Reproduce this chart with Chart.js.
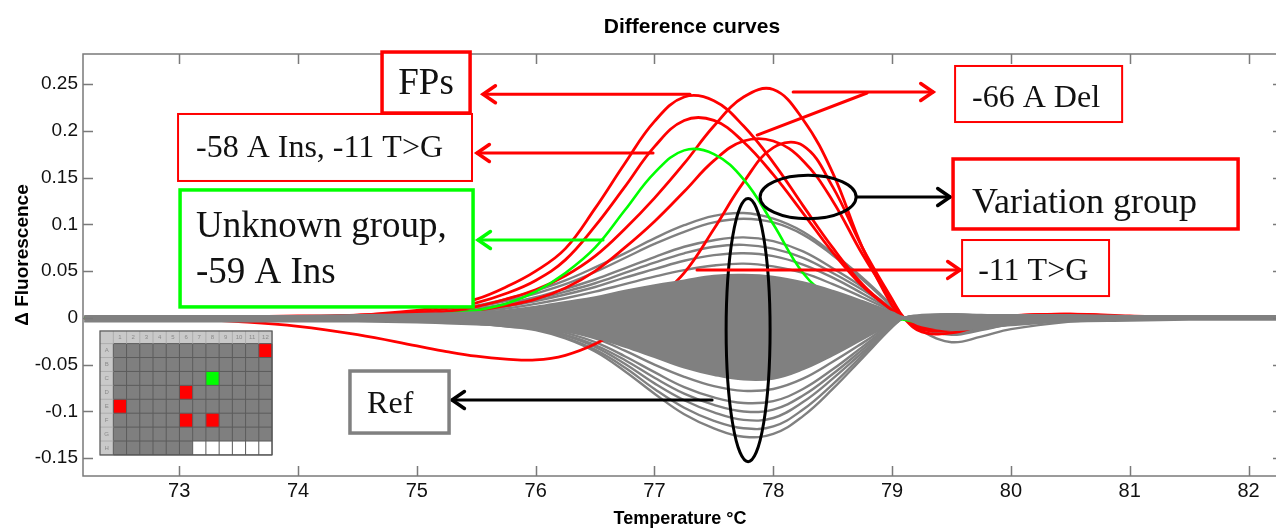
<!DOCTYPE html>
<html>
<head>
<meta charset="utf-8">
<script src="https://cdn.jsdelivr.net/npm/chart.js@4.4.1/dist/chart.umd.min.js"></script>
<style>
html,body{margin:0;padding:0;background:#fff;overflow:hidden;}
canvas{display:block;}
</style>
</head>
<body>
<canvas id="c" width="1284" height="529"></canvas>
<script>
// ---------------- data ----------------
const temps = [72.2,72.5,73,73.5,74,74.5,75,75.25,75.5,75.75,76,76.25,76.5,76.75,77,77.25,77.5,77.75,78,78.25,78.5,78.75,79,79.1,79.25,79.5,79.75,80,80.5,81,81.5,82,82.3];

const xTickValues = [73,74,75,76,77,78,79,80,81,82];
const xTickLabels = ['73','74','75','76','77','78','79','80','81','82'];
const yTickValues = [-0.15,-0.1,-0.05,0,0.05,0.1,0.15,0.2,0.25];
const yTickLabels = ['-0.15','-0.1','-0.05','0','0.05','0.1','0.15','0.2','0.25'];

// red curves (variants)
const redA = [0,0,0,0.001,0.002,0.003,0.008,0.013,0.020,0.033,0.050,0.074,0.117,0.165,0.210,0.236,0.232,0.205,0.166,0.120,0.075,0.036,0.008,0,-0.008,-0.006,-0.002,0.002,0.003,0.001,0,0,0];
const redB = [0,0,0,0.001,0.001,0.003,0.006,0.010,0.016,0.026,0.040,0.062,0.098,0.140,0.183,0.211,0.211,0.188,0.153,0.112,0.070,0.034,0.008,0,-0.010,-0.008,-0.003,0.002,0.004,0.001,0,0,0];
const redC = [0,0,0,0,0.001,0.002,0.004,0.007,0.012,0.020,0.030,0.045,0.066,0.095,0.128,0.165,0.205,0.236,0.244,0.212,0.155,0.075,0.013,0,-0.012,-0.012,-0.005,0.002,0.004,0.002,0,0,0];
const redD = [0,0,0,0,0,0.001,0.003,0.005,0.008,0.013,0.020,0.032,0.050,0.075,0.103,0.135,0.168,0.189,0.189,0.168,0.125,0.068,0.018,0,-0.012,-0.013,-0.006,0,0.003,0.001,0,0,0];
const redE = [0,-0.001,-0.001,-0.004,-0.009,-0.018,-0.030,-0.036,-0.041,-0.044,-0.045,-0.040,-0.028,-0.010,0.018,0.048,0.095,0.145,0.182,0.184,0.140,0.075,0.020,0,-0.015,-0.016,-0.008,-0.002,0.003,0.001,0,0,0];
// green curve (unknown group)
const greenU = [0,0,0,0,0,0.001,0.002,0.004,0.008,0.015,0.028,0.048,0.075,0.115,0.155,0.179,0.175,0.148,0.100,0.048,0.020,0.005,0,-0.002,-0.005,-0.004,-0.002,0,0,0,0,0,0];
// dense reference band (upper / lower envelope)
const refUpper = [0.002,0.002,0.002,0.002,0.002,0.003,0.004,0.005,0.006,0.008,0.012,0.017,0.022,0.029,0.035,0.040,0.045,0.046,0.044,0.038,0.029,0.018,0.006,0.001,0.002,0.003,0.003,0.003,0.003,0.002,0.002,0.002,0.002];
const refLower = [-0.004,-0.004,-0.004,-0.004,-0.004,-0.004,-0.005,-0.006,-0.007,-0.008,-0.010,-0.014,-0.021,-0.031,-0.042,-0.053,-0.061,-0.066,-0.065,-0.055,-0.040,-0.023,-0.006,-0.001,-0.008,-0.013,-0.011,-0.008,-0.004,-0.003,-0.002,-0.002,-0.002];
// individual reference curves
const refP1 = [0,0,0,0,0.001,0.002,0.006,0.009,0.013,0.020,0.029,0.040,0.054,0.069,0.085,0.099,0.109,0.112,0.106,0.092,0.069,0.043,0.013,0,-0.014,-0.026,-0.020,-0.012,-0.004,0,0,0,0];
const refP2 = [0,0,0,0,0.001,0.002,0.005,0.008,0.012,0.018,0.026,0.036,0.049,0.064,0.079,0.092,0.102,0.106,0.102,0.089,0.067,0.041,0.012,0,-0.011,-0.018,-0.013,-0.007,-0.002,0,0,0,0];
const refP3 = [0,0,0,0,0,0.002,0.004,0.007,0.010,0.015,0.022,0.031,0.041,0.053,0.065,0.076,0.083,0.086,0.082,0.071,0.053,0.033,0.010,0,-0.010,-0.017,-0.012,-0.007,-0.002,0,0,0,0];
const refP4 = [0,0,0,0,0,0.002,0.004,0.006,0.009,0.014,0.020,0.028,0.037,0.048,0.059,0.069,0.076,0.078,0.074,0.064,0.048,0.030,0.009,0,-0.009,-0.016,-0.011,-0.006,-0.002,0,0,0,0];
const refP5 = [0,0,0,0,0,0.001,0.003,0.006,0.008,0.012,0.018,0.025,0.033,0.043,0.052,0.061,0.067,0.069,0.066,0.057,0.043,0.026,0.008,0,-0.008,-0.014,-0.010,-0.006,-0.001,0,0,0,0];
const refP6 = [0,0,0,0,0,0.001,0.003,0.005,0.007,0.010,0.015,0.021,0.028,0.036,0.044,0.051,0.056,0.058,0.055,0.048,0.036,0.022,0.007,0,-0.007,-0.012,-0.008,-0.005,-0.001,0,0,0,0];
const refN1 = [0,0,0,0,0,-0.001,-0.003,-0.004,-0.006,-0.009,-0.013,-0.022,-0.036,-0.057,-0.081,-0.103,-0.118,-0.127,-0.124,-0.105,-0.076,-0.043,-0.010,0,0.003,0.004,0.003,0.001,0,0,0,0,0];
const refN2 = [0,0,0,0,0,-0.001,-0.002,-0.004,-0.006,-0.009,-0.012,-0.021,-0.034,-0.053,-0.076,-0.096,-0.110,-0.118,-0.116,-0.098,-0.071,-0.040,-0.009,0,0.002,0.004,0.002,0.001,0,0,0,0,0];
const refN3 = [0,0,0,0,0,-0.001,-0.002,-0.003,-0.005,-0.008,-0.011,-0.019,-0.031,-0.049,-0.070,-0.088,-0.101,-0.109,-0.107,-0.090,-0.065,-0.037,-0.009,0,0.002,0.003,0.002,0.001,0,0,0,0,0];
const refN4 = [0,0,0,0,0,-0.001,-0.002,-0.003,-0.005,-0.007,-0.010,-0.018,-0.029,-0.045,-0.064,-0.081,-0.093,-0.100,-0.098,-0.083,-0.060,-0.034,-0.008,0,0.002,0.003,0.002,0.001,0,0,0,0,0];
const refN5 = [0,0,0,0,0,0,-0.002,-0.003,-0.004,-0.006,-0.009,-0.016,-0.026,-0.041,-0.058,-0.074,-0.085,-0.091,-0.089,-0.076,-0.055,-0.031,-0.007,0,0.002,0.003,0.002,0.001,0,0,0,0,0];
const refN6 = [0,0,0,0,0,0,-0.002,-0.002,-0.004,-0.005,-0.008,-0.014,-0.022,-0.035,-0.050,-0.063,-0.073,-0.078,-0.076,-0.065,-0.047,-0.027,-0.006,0,0.002,0.002,0.002,0.001,0,0,0,0,0];

// plate inset (wells)
const plateRows = ['A','B','C','D','E','F','G','H'];
const plateCols = ['1','2','3','4','5','6','7','8','9','10','11','12'];
const redWells = ['A12','D6','E1','F6','F8'];
const greenWells = ['C8'];
const emptyWells = ['H7','H8','H9','H10','H11','H12'];

// ---------------- styling ----------------
const RED = '#ff0000', GREEN = '#00ff00', GRAY = '#808080', BLACK = '#000000';
const pts = arr => temps.map((t,i)=>({x:t, y:arr[i]}));
function line(arr, color, w, extra){ return Object.assign({data:pts(arr), borderColor:color, backgroundColor:color, borderWidth:w, fill:false, pointRadius:0, tension:0.4}, extra||{}); }

const datasets = [
  line(refUpper, GRAY, 2, {fill:{target:'+1'}, backgroundColor:GRAY}),
  line(refLower, GRAY, 2),
  line(greenU, GREEN, 2.6),
  line(redA, RED, 2.8), line(redB, RED, 2.8), line(redC, RED, 2.8), line(redD, RED, 2.8), line(redE, RED, 2.8),
  line(refP1, GRAY, 2.4), line(refP2, GRAY, 2.4), line(refP3, GRAY, 2.4), line(refP4, GRAY, 2.4), line(refP5, GRAY, 2.4), line(refP6, GRAY, 2.4),
  line(refN1, GRAY, 2.4), line(refN2, GRAY, 2.4), line(refN3, GRAY, 2.4), line(refN4, GRAY, 2.4), line(refN5, GRAY, 2.4), line(refN6, GRAY, 2.4)
];

// annotations in data coordinates
const boxes = [
  {x1:74.707,y1:0.2841,x2:75.448,y2:0.2189,color:RED,lw:3.5},
  {x1:72.990,y1:0.2179,x2:75.464,y2:0.1463,color:RED,lw:2},
  {x1:73.007,y1:0.1367,x2:75.473,y2:0.0117,color:GREEN,lw:3.5},
  {x1:79.530,y1:0.2692,x2:80.936,y2:0.2093,color:RED,lw:2},
  {x1:79.513,y1:0.1698,x2:81.912,y2:0.0950,color:RED,lw:3.5},
  {x1:79.589,y1:0.0832,x2:80.826,y2:0.0233,color:RED,lw:2},
  {x1:74.437,y1:-0.0568,x2:75.271,y2:-0.1231,color:GRAY,lw:3.5}
];
const texts = [
  {t:'FPs', x:75.077, y:0.2499, size:37, align:'center', base:'middle'},
  {t:'-58 A Ins, -11 T>G', x:73.141, y:0.1719, size:32},
  {t:'Unknown group,', x:73.141, y:0.0864, size:37},
  {t:'-59 A Ins', x:73.141, y:0.0373, size:37},
  {t:'-66 A Del', x:79.673, y:0.2254, size:32},
  {t:'Variation group', x:79.673, y:0.1121, size:36},
  {t:'-11 T>G', x:79.724, y:0.0405, size:32},
  {t:'Ref', x:74.581, y:-0.1017, size:32}
];
const arrows = [
  {x1:77.299,y1:0.239,x2:75.557,y2:0.239,color:RED},
  {x1:76.988,y1:0.1762,x2:75.506,y2:0.1762,color:RED},
  {x1:76.567,y1:0.0832,x2:75.515,y2:0.0832,color:GREEN},
  {x1:78.167,y1:0.2414,x2:79.345,y2:0.2414,color:RED},
  {x1:78.705,y1:0.1292,x2:79.488,y2:0.1292,color:BLACK},
  {x1:77.358,y1:0.0512,x2:79.572,y2:0.0512,color:RED},
  {x1:77.485,y1:-0.0878,x2:75.296,y2:-0.0878,color:BLACK}
];
const plainLines = [ {x1:78.789,y1:0.2403,x2:77.864,y2:0.1954,color:RED} ];
const ellipses = [
  {cx:78.293,cy:0.1292,rx:0.404,ry:0.0232},
  {cx:77.788,cy:-0.013,rx:0.185,ry:0.1407}
];
const plateRect = {x1:72.333,y1:-0.0140,x2:73.781,y2:-0.1465};

const deco = {
  id:'deco',
  afterDraw(chart){
    const ctx = chart.ctx, xs = chart.scales.x, ys = chart.scales.y, a = chart.chartArea;
    const X = v => xs.getPixelForValue(v), Y = v => ys.getPixelForValue(v);
    ctx.save();
    // frame + inward ticks
    ctx.strokeStyle = '#7a7a7a'; ctx.lineWidth = 1.5;
    ctx.strokeRect(a.left, a.top, a.right-a.left, a.bottom-a.top);
    ctx.beginPath();
    xTickValues.forEach(v=>{ const p=Math.round(X(v))+0.5; ctx.moveTo(p,a.bottom); ctx.lineTo(p,a.bottom-10); ctx.moveTo(p,a.top); ctx.lineTo(p,a.top+10); });
    yTickValues.forEach(v=>{ const p=Math.round(Y(v))+0.5; ctx.moveTo(a.left,p); ctx.lineTo(a.left+10,p); ctx.moveTo(a.right,p); ctx.lineTo(a.right-10,p); });
    ctx.stroke();

    // plate inset
    const L=X(plateRect.x1), T=Y(plateRect.y1), R=X(plateRect.x2), B=Y(plateRect.y2);
    const hw=(R-L)*0.0775, hh=(B-T)*0.102, cw=(R-L-hw)/12, ch=(B-T-hh)/8;
    ctx.fillStyle='#c9c9c9'; ctx.fillRect(L,T,R-L,B-T);
    ctx.fillStyle='#7f7f7f'; ctx.fillRect(L+hw,T+hh,R-L-hw,B-T-hh);
    plateRows.forEach((r,ri)=>plateCols.forEach((c,ci)=>{
      const id=r+c; let col=null;
      if(redWells.includes(id)) col=RED; else if(greenWells.includes(id)) col=GREEN; else if(emptyWells.includes(id)) col='#ffffff';
      if(col){ ctx.fillStyle=col; ctx.fillRect(L+hw+ci*cw, T+hh+ri*ch, cw, ch); }
    }));
    ctx.lineWidth=1; ctx.strokeStyle='#5c5c5c'; ctx.beginPath();
    for(let i=0;i<=12;i++){ const px=L+hw+i*cw; ctx.moveTo(px,T+hh); ctx.lineTo(px,B); }
    for(let j=0;j<=8;j++){ const py=T+hh+j*ch; ctx.moveTo(L+hw,py); ctx.lineTo(R,py); }
    ctx.stroke();
    ctx.strokeStyle='#adadad'; ctx.beginPath();
    for(let i=0;i<=12;i++){ const px=L+hw+i*cw; ctx.moveTo(px,T); ctx.lineTo(px,T+hh); }
    for(let j=0;j<=8;j++){ const py=T+hh+j*ch; ctx.moveTo(L,py); ctx.lineTo(L+hw,py); }
    ctx.stroke();
    ctx.fillStyle='#8a8a8a'; ctx.font='6px "Liberation Sans"'; ctx.textAlign='center'; ctx.textBaseline='middle';
    plateCols.forEach((c,i)=>ctx.fillText(c, L+hw+(i+0.5)*cw, T+hh/2));
    plateRows.forEach((r,j)=>ctx.fillText(r, L+hw/2, T+hh+(j+0.5)*ch));
    ctx.strokeStyle='#555'; ctx.lineWidth=1.2; ctx.strokeRect(L,T,R-L,B-T);

    // ellipses
    ctx.strokeStyle=BLACK; ctx.lineWidth=3;
    ellipses.forEach(e=>{ ctx.beginPath(); ctx.ellipse(X(e.cx),Y(e.cy),Math.abs(X(e.cx+e.rx)-X(e.cx)),Math.abs(Y(e.cy+e.ry)-Y(e.cy)),0,0,Math.PI*2); ctx.stroke(); });

    // plain lines + arrows
    ctx.lineCap='round';
    plainLines.forEach(l=>{ ctx.strokeStyle=l.color; ctx.lineWidth=3; ctx.beginPath(); ctx.moveTo(X(l.x1),Y(l.y1)); ctx.lineTo(X(l.x2),Y(l.y2)); ctx.stroke(); });
    arrows.forEach(l=>{
      const x1=X(l.x1),y1=Y(l.y1),x2=X(l.x2),y2=Y(l.y2);
      ctx.strokeStyle=l.color; ctx.lineWidth=3; ctx.beginPath(); ctx.moveTo(x1,y1); ctx.lineTo(x2,y2); ctx.stroke();
      const ang=Math.atan2(y2-y1,x2-x1), hl=15, hs=0.6;
      ctx.beginPath();
      ctx.moveTo(x2-hl*Math.cos(ang-hs), y2-hl*Math.sin(ang-hs));
      ctx.lineTo(x2,y2);
      ctx.lineTo(x2-hl*Math.cos(ang+hs), y2-hl*Math.sin(ang+hs));
      ctx.lineWidth=3.5; ctx.lineJoin='miter'; ctx.stroke();
    });

    // boxes
    boxes.forEach(b=>{
      const x1=X(b.x1),y1=Y(b.y1),x2=X(b.x2),y2=Y(b.y2);
      ctx.fillStyle='#ffffff'; ctx.fillRect(x1,y1,x2-x1,y2-y1);
      ctx.strokeStyle=b.color; ctx.lineWidth=b.lw; ctx.strokeRect(x1,y1,x2-x1,y2-y1);
    });
    ctx.fillStyle='#111';
    texts.forEach(t=>{
      ctx.font = t.size+'px "Liberation Serif", "Times New Roman", serif';
      ctx.textAlign = t.align||'left'; ctx.textBaseline = t.base||'alphabetic';
      ctx.fillText(t.t, X(t.x), Y(t.y));
    });

    // titles
    ctx.fillStyle='#000';
    ctx.font='bold 21px "Liberation Sans", Arial, sans-serif'; ctx.textAlign='center'; ctx.textBaseline='middle';
    ctx.fillText('Difference curves', 692, 27);
    ctx.font='bold 18px "Liberation Sans Narrow", "Liberation Sans", Arial, sans-serif';
    ctx.fillText('Temperature \u00B0C', 680, 519);
    ctx.save(); ctx.translate(23, 255); ctx.rotate(-Math.PI/2);
    ctx.font='bold 19px "Liberation Sans", Arial, sans-serif';
    ctx.fillText('\u0394 Fluorescence', 0, 0);
    ctx.restore();
    ctx.restore();
  }
};

new Chart(document.getElementById('c').getContext('2d'), {
  type:'line',
  data:{datasets},
  options:{
    responsive:false, animation:false, devicePixelRatio:1,
    layout:{padding:{top:54,right:1,left:0,bottom:0}},
    plugins:{legend:{display:false}, tooltip:{enabled:false}, title:{display:false}},
    elements:{point:{radius:0}},
    scales:{
      x:{type:'linear', min:72.19, max:82.29,
         grid:{display:false, drawTicks:false}, border:{display:false},
         ticks:{color:'#111', padding:3, maxRotation:0, autoSkip:false,
                font:{family:'"Liberation Sans Narrow", "Liberation Sans", Arial, sans-serif', size:20},
                callback:(v,i)=>xTickLabels[i]},
         afterBuildTicks:s=>{ s.ticks = xTickValues.map(v=>({value:v})); },
         afterFit:s=>{ s.height = 53; }},
      y:{type:'linear', min:-0.169, max:0.282,
         grid:{display:false, drawTicks:false}, border:{display:false},
         ticks:{color:'#111', padding:5, autoSkip:false,
                font:{family:'"Liberation Sans", Arial, sans-serif', size:19},
                callback:(v,i)=>yTickLabels[i]},
         afterBuildTicks:s=>{ s.ticks = yTickValues.map(v=>({value:v})); },
         afterFit:s=>{ s.width = 83; }}
    }
  },
  plugins:[deco]
});
</script>
</body>
</html>
